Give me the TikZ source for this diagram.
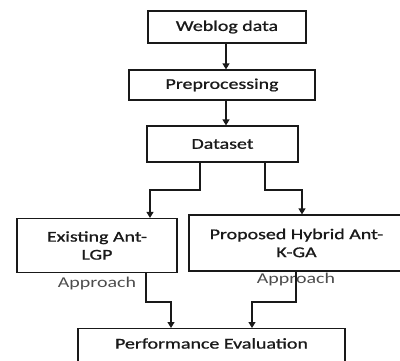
\documentclass[tikz,border=0pt]{standalone}
\usepackage{fontspec}
\setmainfont{Carlito}
\usetikzlibrary{arrows.meta}
\newcommand{\sx}[1]{\scalebox{1.33}[1]{#1}}
\begin{document}
\begin{tikzpicture}[x=1pt,y=-1pt,
  box/.style={draw=black!90, line width=1.2pt, inner sep=0pt, align=center,
    font=\fontsize{15pt}{18pt}\selectfont\addfontfeature{FakeBold=0.8}, text=black!90},
  lbl/.style={inner sep=0pt, font=\fontsize{15pt}{18pt}\selectfont, text=black!70},
  arr/.style={draw=black!90, line width=1.2pt, -{Triangle[width=7pt,length=6pt]}}]
\useasboundingbox (0,0) rectangle (400,360);
\clip (0,0) rectangle (400,360);
\node[box, minimum width=158pt, minimum height=32pt] (wb) at (227,27) {\sx{Weblog data}};
\node[box, minimum width=186pt, minimum height=30pt] (pp) at (222,85) {\sx{Preprocessing}};
\node[box, minimum width=151pt, minimum height=36pt] (ds) at (222.5,144) {\sx{Dataset}};
\node[box, minimum width=160pt, minimum height=54pt] (ex) at (97,245.5) {\sx{Existing Ant-}\\\sx{LGP}};
\node[box, minimum width=215pt, minimum height=56pt] (pr) at (296.5,243) {\sx{Proposed Hybrid Ant-}\\\sx{K-GA}};
\node[lbl] (la) at (97,283) {\sx{Approach}};
\node[lbl] (lb) at (296,279) {\sx{Approach}};
\node[box, minimum width=267pt, text height=20pt, text depth=30pt, anchor=north] (pe) at (211.5,328) {\sx{Performance Evaluation}};
\coordinate (a0) at (226,0);
\coordinate (s1) at (200,190);
\coordinate (t1) at (150,190);
\coordinate (s2) at (265,190);
\coordinate (t2) at (302,190);
\coordinate (u1) at (146,302);
\coordinate (v1) at (171,302);
\coordinate (u2) at (296,302);
\coordinate (v2) at (252,302);
\draw[arr] (wb.south -| a0) -- (pp.north -| a0);
\draw[arr] (pp.south -| a0) -- (ds.north -| a0);
\draw[arr] (ds.south -| s1) -- (s1) -- (t1) -- (ex.north -| t1);
\draw[arr] (ds.south -| s2) -- (s2) -- (t2) -- (pr.north -| t2);
\draw[arr] (ex.south -| u1) -- (u1) -- (v1) -- (pe.north -| v1);
\draw[arr] (pr.south -| u2) -- (u2) -- (v2) -- (pe.north -| v2);
\end{tikzpicture}
\end{document}
